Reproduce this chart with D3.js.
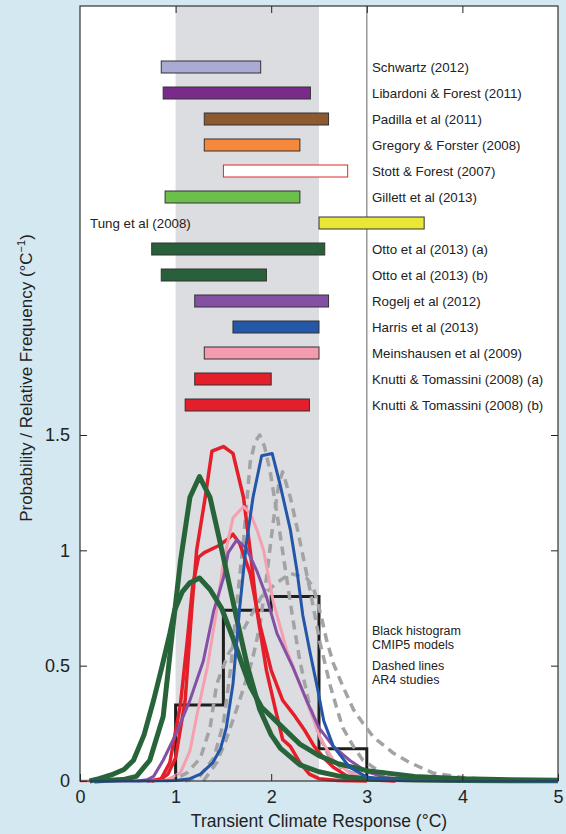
<!DOCTYPE html>
<html><head><meta charset="utf-8">
<script src="https://cdn.jsdelivr.net/npm/d3@7"></script>
<style>
html,body{margin:0;padding:0;background:#d4e8f1;}
text{font-family:"Liberation Sans",Arial,Helvetica,sans-serif;fill:#222;}
</style></head>
<body>
<svg id="chart" width="566" height="834"></svg>
<script>
// ---- study ranges (bars) ----
const studies = ["Schwartz (2012)","Libardoni & Forest (2011)","Padilla et al (2011)","Gregory & Forster (2008)","Stott & Forest (2007)","Gillett et al (2013)","Tung et al (2008)","Otto et al (2013) (a)","Otto et al (2013) (b)","Rogelj et al (2012)","Harris et al (2013)","Meinshausen et al (2009)","Knutti & Tomassini (2008) (a)","Knutti & Tomassini (2008) (b)"];
const lows  = [0.85,0.87,1.30,1.30,1.50,0.89,2.50,0.75,0.85,1.20,1.60,1.30,1.20,1.10];
const highs = [1.89,2.41,2.60,2.30,2.80,2.30,3.60,2.56,1.95,2.60,2.50,2.50,2.00,2.40];
const barColors = ["#a9abd4","#7a2a8a","#8d5a2f","#f5883b","#ffffff","#6dbf4b","#e9e636","#27603a","#27603a","#8450a3","#2457a7","#f49cad","#e21f2b","#e21f2b"];

// ---- histogram (CMIP5 models) ----
const histEdges = [1,1.5,2,2.5,3];
const histValues = [0.33,0.74,0.80,0.14];

// ---- PDFs: [TCR, density] ----
const greenTall = [[0.15,0],[0.3,0.003],[0.45,0.006],[0.59,0.02],[0.73,0.09],[0.87,0.28],[0.97,0.66],[1.05,0.95],[1.15,1.23],[1.25,1.32],[1.36,1.23],[1.43,1.1],[1.5,0.97],[1.62,0.74],[1.75,0.5],[1.88,0.31],[2.0,0.2],[2.1,0.14],[2.3,0.07],[2.5,0.04],[2.7,0.022],[3.0,0.01],[3.5,0.004],[4.0,0.002],[5,0.001]];
const greenBroad = [[0.1,0],[0.2,0.01],[0.35,0.03],[0.46,0.05],[0.56,0.09],[0.67,0.2],[0.77,0.35],[0.86,0.5],[0.94,0.64],[0.99,0.74],[1.07,0.82],[1.15,0.86],[1.25,0.88],[1.36,0.83],[1.48,0.75],[1.6,0.62],[1.7,0.5],[1.78,0.41],[1.9,0.32],[2.1,0.24],[2.3,0.16],[2.5,0.11],[2.7,0.075],[3.0,0.045],[3.5,0.02],[4.0,0.01],[4.5,0.005],[5,0.003]];
const redTall = [[0.7,0],[0.84,0.005],[0.92,0.03],[1.0,0.1],[1.1,0.35],[1.17,0.75],[1.22,1.0],[1.31,1.23],[1.38,1.43],[1.5,1.45],[1.6,1.42],[1.71,1.23],[1.78,1.0],[1.85,0.74],[1.95,0.48],[2.05,0.3],[2.12,0.18],[2.2,0.15],[2.3,0.08],[2.4,0.03],[2.5,0.01],[2.7,0.002],[3,0]];
const redBroad = [[0.75,0],[0.85,0.01],[0.94,0.08],[1.05,0.33],[1.12,0.6],[1.18,0.85],[1.24,0.97],[1.3,0.99],[1.45,1.02],[1.55,1.05],[1.6,1.07],[1.67,1.03],[1.78,0.9],[1.88,0.68],[2.0,0.48],[2.12,0.35],[2.25,0.28],[2.35,0.22],[2.45,0.15],[2.55,0.1],[2.65,0.06],[2.8,0.02],[3.0,0.005],[3.3,0]];
const pinkPdf = [[0,0],[0.5,0],[0.9,0.003],[1.05,0.035],[1.15,0.13],[1.22,0.28],[1.33,0.49],[1.43,0.74],[1.5,0.95],[1.6,1.14],[1.71,1.19],[1.78,1.16],[1.85,1.09],[1.92,1.0],[2.02,0.78],[2.16,0.57],[2.3,0.42],[2.44,0.27],[2.51,0.19],[2.65,0.09],[2.82,0.035],[3.0,0.013],[3.5,0.002],[4,0]];
const purplePdf = [[0.6,0],[0.7,0.005],[0.77,0.02],[0.87,0.09],[1.01,0.21],[1.15,0.35],[1.29,0.52],[1.4,0.74],[1.5,0.88],[1.55,0.99],[1.64,1.045],[1.74,1.01],[1.85,0.91],[1.95,0.8],[2.06,0.64],[2.23,0.49],[2.37,0.35],[2.5,0.23],[2.65,0.15],[2.82,0.09],[3.0,0.04],[3.2,0.015],[3.5,0.004],[4,0]];
const bluePdf = [[0.12,0],[0.6,0],[1.0,0.002],[1.15,0.01],[1.26,0.03],[1.39,0.08],[1.47,0.14],[1.53,0.23],[1.6,0.42],[1.67,0.75],[1.74,1.03],[1.81,1.23],[1.9,1.41],[2.01,1.42],[2.09,1.29],[2.2,1.09],[2.27,0.91],[2.33,0.72],[2.41,0.55],[2.48,0.41],[2.55,0.26],[2.65,0.15],[2.82,0.06],[3.0,0.017],[3.2,0.005],[3.5,0.002],[5,0]];
const ar4a = [[1.1,0],[1.25,0.02],[1.4,0.1],[1.5,0.25],[1.58,0.5],[1.64,0.77],[1.71,1.04],[1.78,1.38],[1.83,1.47],[1.88,1.5],[1.93,1.45],[1.99,1.34],[2.06,1.16],[2.14,0.94],[2.22,0.72],[2.3,0.52],[2.4,0.33],[2.5,0.2],[2.6,0.11],[2.75,0.05],[3.0,0.01],[3.3,0]];
const ar4b = [[1.29,0],[1.43,0.08],[1.53,0.18],[1.67,0.35],[1.8,0.52],[1.88,0.67],[1.95,0.88],[2.02,1.12],[2.08,1.29],[2.12,1.34],[2.2,1.23],[2.27,1.1],[2.33,0.98],[2.41,0.82],[2.51,0.6],[2.62,0.41],[2.69,0.31],[2.75,0.23],[2.86,0.15],[2.96,0.09],[3.1,0.05],[3.3,0.02],[3.6,0.005],[3.9,0]];
const ar4c = [[0.9,0],[1.05,0.02],[1.12,0.035],[1.26,0.1],[1.36,0.23],[1.43,0.42],[1.55,0.55],[1.66,0.62],[1.78,0.71],[1.9,0.8],[2.06,0.86],[2.2,0.9],[2.37,0.88],[2.44,0.84],[2.52,0.72],[2.58,0.61],[2.65,0.51],[2.75,0.41],[2.86,0.31],[2.96,0.25],[3.07,0.19],[3.28,0.12],[3.45,0.08],[3.69,0.035],[4.0,0.015],[4.3,0.005],[4.6,0]];

const xTicks = [0,1,2,3,4,5];
const yTicks = [0,0.5,1,1.5];
const legendLines = ["Black histogram","CMIP5 models","Dashed lines","AR4 studies"];

// ---- layout ----
const svg = d3.select("#chart");
const L = 80, R = 558, T = 6, B = 781;
const x = d3.scaleLinear().domain([0,5]).range([L,R]);
const y = d3.scaleLinear().domain([0,1.5]).range([B,435]);
const row = d3.scalePoint().domain(studies).range([67,405]);

svg.append("rect").attr("x",L).attr("y",T).attr("width",R-L).attr("height",B-T).attr("fill","#fff");
svg.append("rect").attr("x",x(1)).attr("y",T).attr("width",x(2.5)-x(1)).attr("height",B-T).attr("fill","#dcdde0");
svg.append("line").attr("x1",x(3)).attr("x2",x(3)).attr("y1",T).attr("y2",B).attr("stroke","#9a9a9a").attr("stroke-width",1.5);

// bars
const bh = 12;
studies.forEach((s,i)=>{
  svg.append("rect").attr("x",x(lows[i])).attr("y",row(s)-bh/2)
    .attr("width",x(highs[i])-x(lows[i])).attr("height",bh)
    .attr("fill",barColors[i])
    .attr("stroke", i===4 ? "#e2262c" : "#333").attr("stroke-width",1);
  const isTung = s.startsWith("Tung");
  svg.append("text").attr("x", isTung ? 90 : 372).attr("y",row(s)).attr("dy","0.36em")
    .attr("font-size","13.3px").text(s);
});

// histogram
const hpts = [[histEdges[0],0]];
histValues.forEach((v,i)=>{ hpts.push([histEdges[i],v]); hpts.push([histEdges[i+1],v]); });
hpts.push([histEdges[histEdges.length-1],0]);
svg.append("path").attr("d", d3.line().x(d=>x(d[0])).y(d=>y(d[1]))(hpts))
  .attr("fill","none").attr("stroke","#1e1e1e").attr("stroke-width",3);

const line = d3.line().x(d=>x(d[0])).y(d=>y(d[1])).curve(d3.curveLinear);
function draw(data,color,w,dash){
  const p = svg.append("path").attr("d",line(data)).attr("fill","none")
    .attr("stroke",color).attr("stroke-width",w).attr("stroke-linejoin","round");
  if(dash) p.attr("stroke-dasharray",dash);
}
[ar4c,ar4b,ar4a].forEach(d=>draw(d,"#a3a3a5",3.5,"9,6"));
draw(redBroad,"#e41f2a",3.5);
draw(redTall,"#e41f2a",3.5);
draw(pinkPdf,"#f59fb1",3);
draw(purplePdf,"#8450a5",3);
draw(greenBroad,"#27643a",5);
draw(greenTall,"#27643a",5);
draw(bluePdf,"#2356a8",3);

// axes
const gl = svg.append("g").attr("transform",`translate(${L},0)`)
  .call(d3.axisLeft(y).tickValues(yTicks).tickFormat(d3.format("")).tickSizeInner(-7).tickSizeOuter(0).tickPadding(10));
const gr = svg.append("g").attr("transform",`translate(${R},0)`)
  .call(d3.axisRight(y).tickValues(yTicks.slice(1)).tickFormat("").tickSizeInner(-7).tickSizeOuter(0));
const gb = svg.append("g").attr("transform",`translate(0,${B})`)
  .call(d3.axisBottom(x).tickValues(xTicks).tickFormat(d3.format("")).tickSizeInner(-7).tickSizeOuter(0).tickPadding(9));
const gt = svg.append("g").attr("transform",`translate(0,${T})`)
  .call(d3.axisTop(x).tickValues(xTicks.slice(1,5)).tickFormat("").tickSizeInner(-7).tickSizeOuter(0));
[gl,gr,gb,gt].forEach(g=>{
  g.select(".domain").remove();
  g.selectAll(".tick line").attr("stroke","#222");
  g.selectAll("text").attr("font-size","18px").attr("fill","#222")
    .attr("font-family","'Liberation Sans',Arial,Helvetica,sans-serif");
});

// frame
svg.append("rect").attr("x",L).attr("y",T).attr("width",R-L).attr("height",B-T)
  .attr("fill","none").attr("stroke","#333").attr("stroke-width",1.2);

// legend text
const lgY = [630.5,644.5,665.5,679.5];
legendLines.forEach((t,i)=>{
  svg.append("text").attr("x",372).attr("y",lgY[i]).attr("dy","0.36em").attr("font-size","12.5px").text(t);
});

// titles
svg.append("text").attr("x",(L+R)/2).attr("y",827).attr("text-anchor","middle")
  .attr("font-size","17.5px").text("Transient Climate Response (°C)");
const yt = svg.append("text").attr("transform","translate(32,378) rotate(-90)")
  .attr("text-anchor","middle").attr("font-size","17px");
yt.append("tspan").text("Probability / Relative Frequency (°C");
yt.append("tspan").attr("font-size","11px").attr("dy","-7").text("−1");
yt.append("tspan").attr("dy","7").text(")");
</script>
</body></html>
